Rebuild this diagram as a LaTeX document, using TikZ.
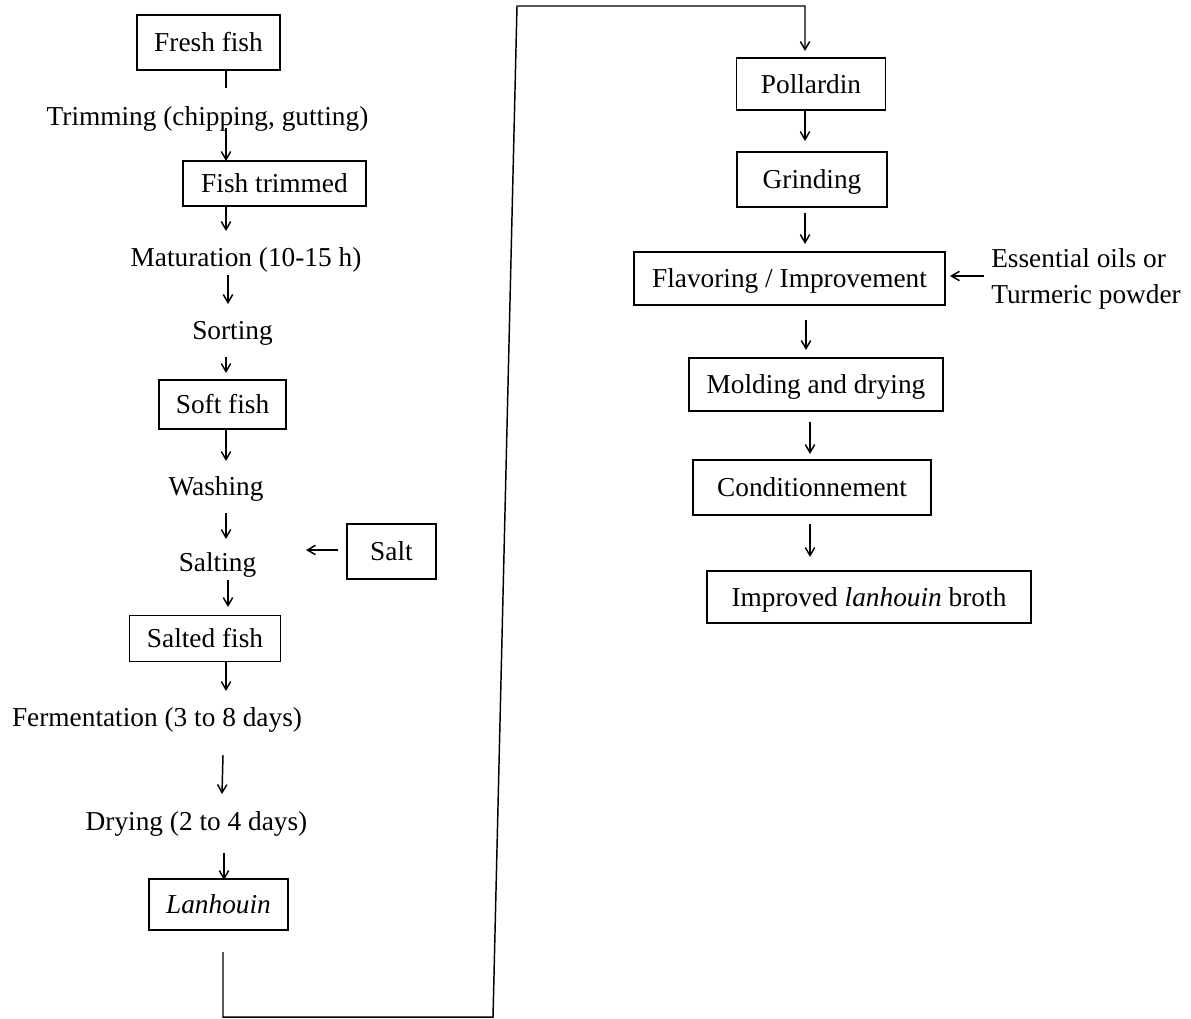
\documentclass[tikz,border=0pt]{standalone}
\usepackage{fontspec}
\setmainfont{Liberation Serif}
\usetikzlibrary{arrows.meta}
\begin{document}
\begin{tikzpicture}[x=0.75pt,y=-0.75pt,
  every node/.style={font=\fontsize{20.5}{27}\selectfont, inner sep=0pt, text height=13.6pt, text depth=0pt},
  stepbox/.style={draw, line width=1.1pt, rectangle},
  bx/.style 2 args={minimum width=#1*0.75pt, minimum height=#2*0.75pt},
  lbl/.style={},
  arr/.style={line width=1.1pt, -{Straight Barb[length=6pt,width=7pt,line width=1.1pt]}},
  plain/.style={line width=1.1pt}]
\useasboundingbox (0,0) rectangle (1191,1018);
% left column
\node[stepbox, bx={143}{55}] (fresh) at (208.5,42.5) {Fresh fish};
\node[lbl] (trim) at (207.5,116) {Trimming (chipping, gutting)};
\node[stepbox, bx={183}{45}] (trimmed) at (274.5,183.5) {Fish trimmed};
\node[lbl] (matur) at (246,257.5) {Maturation (10-15 h)};
\node[lbl] (sort) at (232.5,330.5) {Sorting};
\node[stepbox, bx={127}{49}] (soft) at (222.5,404.5) {Soft fish};
\node[lbl] (wash) at (216,486) {Washing};
\node[lbl] (salting) at (217.5,562.5) {Salting};
\node[stepbox, bx={89}{55}] (salt) at (391.5,551.5) {Salt};
\node[stepbox, bx={151}{46}] (salted) at (205,638.5) {Salted fish};
\node[lbl] (ferm) at (157,717) {Fermentation (3 to 8 days)};
\node[lbl] (dry) at (196.5,821) {Drying (2 to 4 days)};
\node[stepbox, bx={139}{51}] (lanh) at (218.5,904.5) {\itshape Lanhouin};
% right column
\node[stepbox, bx={149}{52}] (poll) at (811,84) {Pollardin};
\node[stepbox, bx={150}{55}] (grind) at (812,179.5) {Grinding};
\node[stepbox, bx={311}{53}] (flav) at (789.5,278.5) {Flavoring / Improvement};
\node[lbl, align=left, anchor=west, text height=, text depth=] (oils) at (991,279) {Essential oils or\\Turmeric powder};
\node[stepbox, bx={254}{53}] (mold) at (816,384.5) {Molding and drying};
\node[stepbox, bx={238}{55}] (cond) at (812,487.5) {Conditionnement};
\node[stepbox, bx={324}{52}] (impr) at (869,597) {Improved \textit{lanhouin} broth};
% connector end points
\coordinate (a1s) at (226,70);   \coordinate (a1e) at (226,88);
\coordinate (a2s) at (226,128);  \coordinate (a2e) at (226,161);
\coordinate (a3s) at (226,206);  \coordinate (a3e) at (226,231);
\coordinate (a4s) at (228,275);  \coordinate (a4e) at (228,304);
\coordinate (a5s) at (226,357);  \coordinate (a5e) at (226,373);
\coordinate (a6s) at (226,429);  \coordinate (a6e) at (226,461);
\coordinate (a7s) at (226,513);  \coordinate (a7e) at (226,539);
\coordinate (a8s) at (338,550);  \coordinate (a8e) at (306,550);
\coordinate (a9s) at (228,580);  \coordinate (a9e) at (228,607);
\coordinate (a10s) at (226,662); \coordinate (a10e) at (226,691);
\coordinate (a11s) at (223,755); \coordinate (a11e) at (222,794);
\coordinate (a12s) at (224,853); \coordinate (a12e) at (224,880);
\coordinate (c0) at (223,952); \coordinate (c1) at (223,1017); \coordinate (c2) at (493,1017);
\coordinate (c3) at (517,6); \coordinate (c4) at (805,6); \coordinate (c5) at (805,51);
\coordinate (b1s) at (805,111); \coordinate (b1e) at (805,141);
\coordinate (b2s) at (805,213); \coordinate (b2e) at (805,244);
\coordinate (b3s) at (984,276); \coordinate (b3e) at (950,276);
\coordinate (b4s) at (806,320); \coordinate (b4e) at (806,350);
\coordinate (b5s) at (810,422); \coordinate (b5e) at (810,454);
\coordinate (b6s) at (810,524); \coordinate (b6e) at (810,557);
% connectors
\draw[plain] (a1s) -- (a1e);
\draw[arr] (a2s) -- (a2e);
\draw[arr] (a3s) -- (a3e);
\draw[arr] (a4s) -- (a4e);
\draw[arr] (a5s) -- (a5e);
\draw[arr] (a6s) -- (a6e);
\draw[arr] (a7s) -- (a7e);
\draw[arr] (a8s) -- (a8e);
\draw[arr] (a9s) -- (a9e);
\draw[arr] (a10s) -- (a10e);
\draw[arr] (a11s) -- (a11e);
\draw[arr] (a12s) -- (a12e);
\draw[arr, line join=miter] (c0) -- (c1) -- (c2) -- (c3) -- (c4) -- (c5);
\draw[arr] (b1s) -- (b1e);
\draw[arr] (b2s) -- (b2e);
\draw[arr] (b3s) -- (b3e);
\draw[arr] (b4s) -- (b4e);
\draw[arr] (b5s) -- (b5e);
\draw[arr] (b6s) -- (b6e);
\end{tikzpicture}
\end{document}
